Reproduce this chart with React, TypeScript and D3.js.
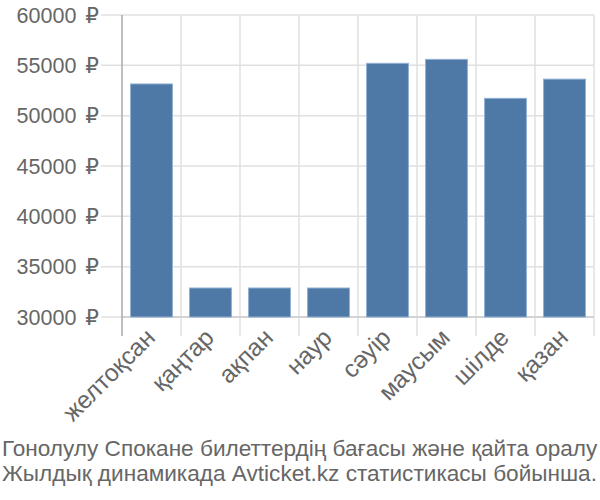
import React from "react";
import * as d3 from "d3";

const categories = ["желтоқсан", "қаңтар", "ақпан", "наур", "сәуір", "маусым", "шілде", "қазан"];
const prices = [53150, 32880, 32880, 32880, 55200, 55590, 51720, 53630];
const yTicks = [30000, 35000, 40000, 45000, 50000, 55000, 60000];
const titleLines = [
  "Гонолулу Спокане билеттердің бағасы және қайта оралу",
  "Жылдық динамикада Avticket.kz статистикасы бойынша.",
];

export default function App() {
  const W = 600, H = 500;
  const left = 122, right = 594, top = 15, bottom = 317;
  const x = d3.scaleBand<string>().domain(categories).range([left, right]).paddingInner(0.29).paddingOuter(0.145);
  const xb = d3.scaleBand<string>().domain(categories).range([left, right]);
  const y = d3.scaleLinear().domain([30000, 60000]).range([bottom, top]);
  const font = "'Liberation Sans', Arial, sans-serif";
  const textColor = "#666";
  return (
    <svg width={W} height={H} style={{ position: "absolute", left: 0, top: 0 }}>
      <rect width={W} height={H} fill="#fff" />
      {yTicks.map((t) => (
        <line key={"h" + t} x1={101} x2={right} y1={y(t)} y2={y(t)} stroke="#e0e0e0" strokeWidth={1.5} />
      ))}
      {categories.map((c) => (
        <line key={"v" + c} x1={xb(c)! + xb.step()} x2={xb(c)! + xb.step()} y1={top} y2={336} stroke="#e0e0e0" strokeWidth={1.5} />
      ))}
      <line x1={left} x2={right} y1={bottom} y2={bottom} stroke="#ccc" strokeWidth={1.5} />
      <line x1={left} x2={left} y1={top} y2={336} stroke="#aaa" strokeWidth={1.5} />
      {categories.map((c, i) => (
        <rect key={"b" + c} x={x(c)} y={y(prices[i])} width={x.bandwidth()} height={bottom - y(prices[i])}
          fill="#4e79a7" stroke="#8fb0d3" strokeWidth={1} />
      ))}
      {yTicks.map((t) => (
        <text key={"yl" + t} x={99} y={y(t)} dy="0.35em" textAnchor="end" fontFamily={font} fontSize={21.5} fill={textColor}
          style={{ whiteSpace: "pre" }}>
          {String(t) + " "}
          <tspan dx={3} fontFamily="'DejaVu Sans', sans-serif">₽</tspan>
        </text>
      ))}
      {categories.map((c) => {
        const cx = xb(c)! + xb.step() / 2 + 5;
        const cy = 339;
        return (
          <text key={"xl" + c} transform={`translate(${cx},${cy}) rotate(-45)`} textAnchor="end" fontFamily={font}
            fontSize={24.5} fill={textColor}>
            {c}
          </text>
        );
      })}
      {titleLines.map((l, i) => (
        <text key={"t" + i} x={2} y={455.5 + i * 25} fontFamily={font} fontSize={22.6} fill={textColor}>
          {l}
        </text>
      ))}
    </svg>
  );
}
